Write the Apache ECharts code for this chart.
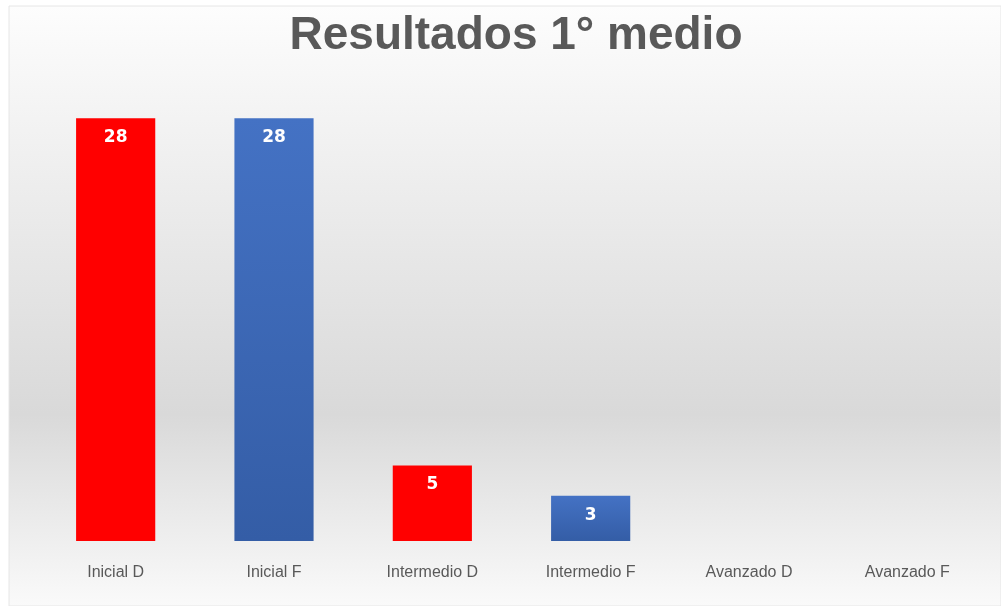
<!DOCTYPE html>
<html>
<head>
<meta charset="utf-8">
<script src="https://cdn.jsdelivr.net/npm/echarts@6/dist/echarts.min.js"></script>
<style>
  html, body { margin: 0; padding: 0; background: #fff; }
  #chart { width: 1001px; height: 606px; }
</style>
</head>
<body>
<div id="chart"></div>
<script>
// categorias y resultados
const categories = ['Inicial D', 'Inicial F', 'Intermedio D', 'Intermedio F', 'Avanzado D', 'Avanzado F']
const values = [28, 28, 5, 3, 0, 0]
const colorD = '#ff0000'
const colorF = ['#4472c4', '#345da6']

const chart = echarts.init(document.getElementById('chart'))

const option = {
  animation: false,
  graphic: [
    {
      type: 'rect',
      z: -10,
      shape: { x: 9, y: 6, width: 992, height: 600 },
      style: {
        stroke: '#e6e6e6',
        lineWidth: 1,
        fill: new echarts.graphic.LinearGradient(0, 0, 0, 1, [
          { offset: 0, color: '#fdfdfd' },
          { offset: 0.68, color: '#d9d9d9' },
          { offset: 1, color: '#fafafa' }
        ])
      }
    }
  ],
  title: {
    text: 'Resultados 1° medio',
    left: 511,
    textAlign: 'center',
    top: 8,
    textStyle: {
      fontFamily: 'Liberation Sans',
      fontWeight: 'bold',
      fontSize: 46,
      color: '#595959'
    }
  },
  grid: {
    left: 36.5,
    right: 14.5,
    top: 88,
    bottom: 65,
    containLabel: false
  },
  xAxis: {
    type: 'category',
    data: categories,
    axisLine: { show: false },
    axisTick: { show: false },
    axisLabel: {
      margin: 24,
      fontFamily: 'Liberation Sans',
      fontSize: 16,
      color: '#595959'
    }
  },
  yAxis: {
    type: 'value',
    min: 0,
    max: 30,
    show: false,
    splitLine: { show: false }
  },
  series: [
    {
      type: 'bar',
      barWidth: '50%',
      data: values.map((v, i) => ({
        value: v,
        itemStyle: {
          color: i % 2 === 0 ? colorD : new echarts.graphic.LinearGradient(0, 0, 0, 1, [
            { offset: 0, color: colorF[0] },
            { offset: 1, color: colorF[1] }
          ])
        }
      })),
      label: {
        show: true,
        position: 'insideTop',
        distance: 11,
        color: '#ffffff',
        fontFamily: 'DejaVu Sans',
        fontWeight: 'bold',
        fontSize: 17,
        formatter: p => p.value > 0 ? p.value : ''
      }
    }
  ]
}
chart.setOption(option)
</script>
</body>
</html>
